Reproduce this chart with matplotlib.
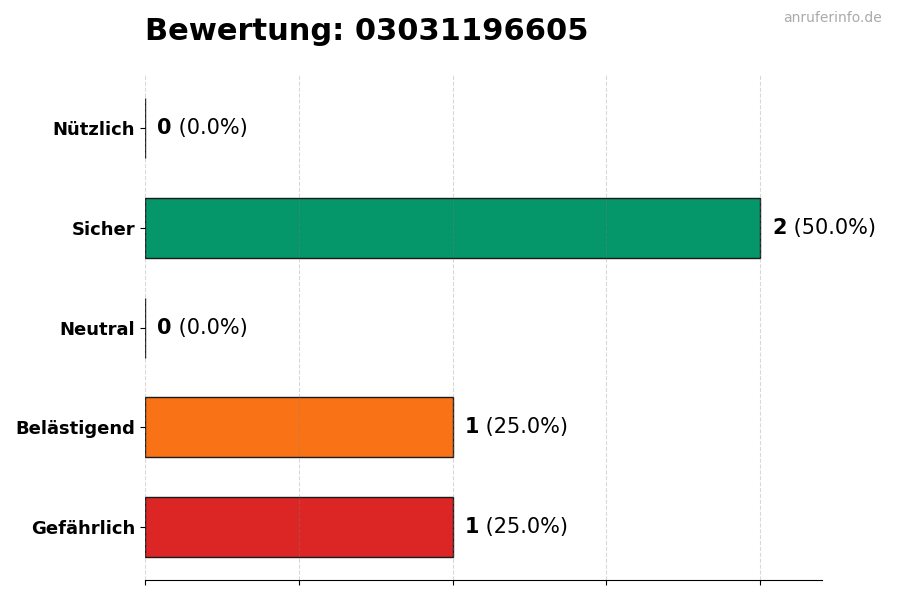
import matplotlib.pyplot as plt

categories = ["Gefährlich", "Belästigend", "Neutral", "Sicher", "Nützlich"]
counts = [1, 1, 0, 2, 0]
colors = ["#dc2626", "#f97316", "#9ca3af", "#059669", "#2563eb"]
phone = "03031196605"

total = sum(counts)

fig = plt.figure(figsize=(9, 6), dpi=100)
ax = fig.add_axes([0.161, 0.033, 0.752, 0.842])

ys = range(len(categories))
ax.barh(ys, counts, height=0.6, color=colors, edgecolor="#1a1a1a", linewidth=1)
ax.set_yticks(list(ys))
ax.set_yticklabels(categories, fontsize=13, fontweight="bold")
ax.set_xlim(0, 2.2)
ax.set_xticks([0, 0.5, 1, 1.5, 2])
ax.set_xticklabels([])
ax.grid(axis="x", linestyle="--", color="gray", alpha=0.3, linewidth=0.8)
ax.set_axisbelow(False)
for s in ["top", "right", "left"]:
    ax.spines[s].set_visible(False)

for y, c in zip(ys, counts):
    pct = 100.0 * c / total if total else 0
    t = ax.text(c + 0.04, y, str(c), fontsize=15, fontweight="bold", va="center")
    ax.annotate(" ({:.1f}%)".format(pct), xy=(1, 0), xycoords=t,
                va="bottom", ha="left", fontsize=15)

fig.text(0.161, 0.948, "Bewertung: " + phone, fontsize=22, fontweight="bold",
         va="center", ha="left")
fig.text(0.98, 0.97, "anruferinfo.de", fontsize=10, color="#aaaaaa",
         ha="right", va="center")

fig.savefig("out.png", dpi=100)
